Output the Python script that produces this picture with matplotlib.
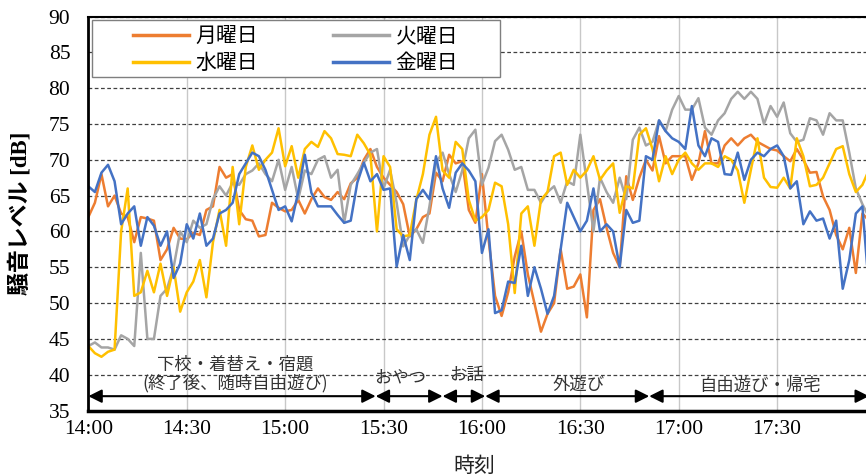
import numpy as np
import matplotlib
matplotlib.use("Agg")
import matplotlib.pyplot as plt
from matplotlib.patches import Rectangle

plt.rcParams['font.family'] = ['Noto Sans CJK JP', 'DejaVu Sans']

# ~~~~~~~~~~~~~~~~~~~~~~~~~~~~~ Données ~~~~~~~~~~~~~~~~~~~~~~~~~~~~~ #
# minutes après 14:00 (un point toutes les 2 minutes)
minutes = np.arange(0, 240, 2)

getsu = [62, 64, 68, 63.5, 65, 62.5, 62, 58.5, 62, 61.8, 61.5, 56, 57.5, 60.5, 59, 58.9, 59.8, 59.5, 63, 63.5, 69, 67.5, 68, 63,
         61.7, 61.5, 59.3, 59.5, 64, 63.3, 62.8, 63, 64.4, 62.5, 64.5, 66, 64.8, 64.4, 65.5, 64.5, 66.7, 67.5, 70, 71.5, 69, 67.5, 66.5, 65.5,
         63.8, 59.3, 60.3, 62, 62.5, 68.2, 67, 70.7, 69.5, 69.8, 63, 61.2, 68, 59, 51, 48.2, 51.5, 56.5, 60, 54, 50, 46, 48.5, 50,
         57.5, 52, 52.3, 54, 48, 63, 64.5, 60.5, 57, 55, 67.7, 64.4, 67.5, 70, 68.5, 73.3, 69.5, 70.5, 70.5, 70.5, 67.2, 69.5, 74, 69.5,
         69.5, 72, 73, 72, 73, 73.5, 72.5, 72, 71.5, 71.3, 70.5, 69.8, 71.5, 70, 68.2, 68.3, 64.9, 63, 59.5, 57.5, 60.5, 54.2, 62.5, 61.5]

ka = [44, 44.5, 43.8, 43.8, 43.5, 45.5, 45, 44, 57, 45, 45, 51, 52, 55, 60, 58.5, 61.5, 60.5, 61, 64.5, 66.3, 65, 66.8, 66.5,
      68, 68.5, 69.5, 68, 67, 70, 65.8, 69, 64.5, 68.5, 68, 70, 70.5, 67.5, 68.6, 61.2, 66.5, 68, 69.6, 71, 71.5, 66, 68.6, 64,
      57.9, 59.5, 60.3, 58.4, 63.5, 69.6, 71, 68, 65.5, 68.5, 73, 74.2, 66.5, 68.9, 72.6, 73.5, 71.4, 68.6, 69, 65.8, 65.8, 64, 65.5, 66.3,
      64, 67, 66.5, 73.5, 66.8, 60, 67.5, 65.5, 64, 67.5, 64.5, 72.8, 74.5, 72, 72.5, 75.5, 74, 77, 78.9, 77, 77, 78.6, 74.5, 73.5,
      75.5, 76.5, 78.5, 79.5, 78.5, 79.5, 78.5, 75, 77.5, 76, 78, 73.7, 72.5, 72.8, 75.8, 75.5, 73.5, 76.5, 75.5, 75.5, 71, 66, 63.8, 62]

sui = [44, 43, 42.5, 43.2, 43.5, 60, 66, 51, 51.5, 54.5, 51.5, 55.5, 51, 55, 48.8, 51.5, 53, 56, 50.8, 58.5, 63, 58, 69, 61,
       69, 72, 68.6, 70, 71, 74.4, 69.1, 71.9, 67.5, 71.5, 72.5, 71.8, 74, 73, 70.8, 70.7, 70.5, 73.5, 72.3, 70.7, 60, 70.5, 69, 60.3,
       59.3, 59.5, 64.4, 68, 73.5, 76, 68.5, 67.5, 72.5, 71.5, 64.4, 61.5, 62, 63, 66.8, 66.3, 61, 51.4, 62.5, 63.5, 58, 64.4, 65.5, 70.5,
       71, 66.5, 68.6, 67.5, 68.5, 70.5, 67.2, 68.5, 69.5, 62.6, 66.3, 66, 73.5, 74.4, 71.5, 67, 70.5, 68, 70, 71, 69.5, 68.6, 69.5, 69.5,
       69, 70.5, 70, 68.5, 64, 68.6, 73, 67.5, 66.2, 66.1, 67.5, 66, 73, 70.5, 66.3, 66.5, 67.5, 69.5, 71.5, 71.9, 68, 65.5, 66.5, 68.6]

kin = [66.3, 65.5, 68.2, 69.3, 67, 61, 62.5, 63.5, 58, 62, 60.8, 58, 60, 53.5, 55.5, 61, 59, 62.5, 58, 59, 62.5, 63, 64, 68,
       69.5, 71, 70.5, 68.6, 65.8, 63, 63.5, 61.4, 65.5, 70.7, 65.4, 63.5, 63.5, 63.5, 62.3, 61.2, 61.5, 66.8, 69.6, 67, 68, 65.8, 66, 55.1,
       59.5, 56, 64.5, 65.8, 64.5, 70.5, 66, 63.3, 68.2, 69.5, 68.5, 67, 57, 60.3, 48.6, 49, 53, 52.8, 58, 51, 55, 52, 48.5, 51,
       57.5, 64, 62, 60, 61.5, 66, 60, 61, 60, 55, 63, 61.2, 61.5, 70.5, 70, 75.5, 74, 73, 72.5, 71.5, 77.5, 72, 70.5, 73,
       72.5, 68, 67.9, 71, 67.2, 70, 71, 70.5, 71.5, 72, 70.5, 66, 67, 61, 62.8, 61.5, 61.8, 59, 61.5, 52, 56, 62.5, 63.5, 52]

noms = ["月曜日", "火曜日", "水曜日", "金曜日"]
couleurs = ["#ED7D31", "#A5A5A5", "#FFC000", "#4472C4"]

ticks_x = [0, 30, 60, 90, 120, 150, 180, 210, 240]
labels_x = ["14:00", "14:30", "15:00", "15:30", "16:00", "16:30", "17:00", "17:30", ""]

# activités : bornes (minutes) et libellés
bornes = [0, 87.6, 108, 121, 171, 238]
activites = [(44.7, 41.4, "下校・着替え・宿題"),
             (44.7, 38.8, "(終了後、随時自由遊び)"),
             (95.2, 39.6, "おやつ"),
             (115.4, 40.0, "お話"),
             (149.5, 38.6, "外遊び"),
             (204.9, 38.5, "自由遊び・帰宅")]

# ~~~~~~~~~~~~~~~~~~~~~~~~~~~~~ Graphique ~~~~~~~~~~~~~~~~~~~~~~~~~~~~~ #
fig = plt.figure(figsize=(8.66, 4.76), dpi=100)
ax = fig.add_axes([0.102, 0.1376, 0.909, 0.8277])

lignes = []
for serie, nom, c in zip([getsu, ka, sui, kin], noms, couleurs):
    l, = ax.plot(minutes, serie, color=c, lw=1.8, label=nom, zorder=2)
    lignes.append(l)

ax.set_xlim(0, 240)
ax.set_ylim(35, 90)
ax.set_xticks(ticks_x)
ax.set_xticklabels(labels_x)
ax.set_yticks(range(35, 91, 5))

ax.grid(axis='x', color='#C8C8C8', lw=1.0, zorder=0)
ax.grid(axis='y', color='#404040', lw=0.9, linestyle=(0, (3, 2)), zorder=0)
ax.set_axisbelow(True)

for lab in ax.get_xticklabels() + ax.get_yticklabels():
    lab.set_family(['Liberation Serif', 'DejaVu Serif'])
    lab.set_fontsize(15.5)
ax.tick_params(axis='both', length=0)
ax.tick_params(axis='y', pad=13)
ax.tick_params(axis='x', pad=7)

ax.spines['left'].set_linewidth(2)
ax.spines['bottom'].set_linewidth(2.5)
ax.spines['top'].set_linewidth(1.5)
ax.spines['right'].set_linewidth(1.5)

ax.set_ylabel("騒音レベル [dB]", fontsize=16.5, fontweight='bold',
              family=['Liberation Serif', 'Noto Sans CJK JP'])
ax.yaxis.set_label_coords(-0.072, 0.5)
ax.set_xlabel("時刻", fontsize=15, color='#222222')
ax.xaxis.set_label_coords(0.49, -0.14)
ax.xaxis.label.set_verticalalignment('center')

# flèches des activités
for a, b in zip(bornes[:-1], bornes[1:]):
    ax.annotate('', xy=(b, 37), xytext=(a, 37),
                arrowprops=dict(arrowstyle='<|-|>', color='black', lw=1.5,
                                mutation_scale=20, shrinkA=0, shrinkB=0))
for x, y, txt in activites:
    ax.text(x, y, txt, ha='center', va='center', fontsize=12.5, color='#333333')

# légende
cadre = Rectangle((0.0046, 0.8464), 0.5184, 0.1448, transform=ax.transAxes,
                  facecolor='white', edgecolor='#7F7F7F', lw=1, zorder=4)
ax.add_patch(cadre)
ordre = [lignes[0], lignes[2], lignes[1], lignes[3]]
leg = ax.legend(ordre, [l.get_label() for l in ordre], ncol=2, loc='upper left',
                bbox_to_anchor=(0.0567, 0.978), frameon=False, fontsize=15,
                handlelength=2.7, handletextpad=0.3, columnspacing=3.6,
                labelspacing=0.25, borderpad=0, borderaxespad=0)
leg.set_zorder(5)
for h in leg.get_lines():
    h.set_linewidth(2.5)

plt.savefig("out.png", dpi=100)
